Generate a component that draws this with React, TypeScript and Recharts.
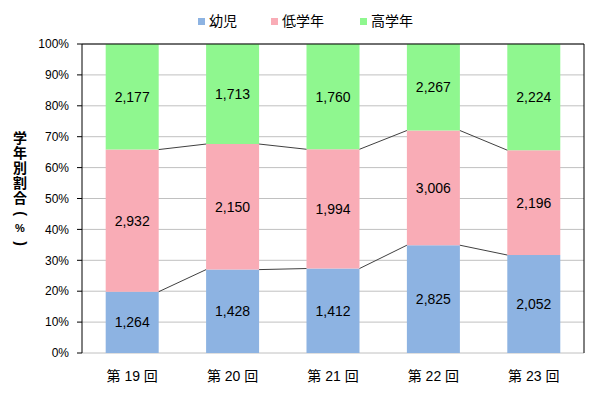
import React from 'react';
import {
  ComposedChart,
  Bar,
  Line,
  XAxis,
  YAxis,
  CartesianGrid,
  LabelList,
  ReferenceLine,
} from 'recharts';

const rounds = ['第 19 回', '第 20 回', '第 21 回', '第 22 回', '第 23 回'];
const infants = [1264, 1428, 1412, 2825, 2052];
const lowerGrades = [2932, 2150, 1994, 3006, 2196];
const upperGrades = [2177, 1713, 1760, 2267, 2224];

const seriesNames = ['幼児', '低学年', '高学年'];
const seriesColors = ['#8db3e2', '#f9acb6', '#8ff78f'];
const yTicks = [0, 10, 20, 30, 40, 50, 60, 70, 80, 90, 100];

const FONT = "'Liberation Sans', 'Noto Sans CJK JP', sans-serif";
const CATEGORY_GAP = 0.236;

const data = rounds.map((name, i) => {
  const total = infants[i] + lowerGrades[i] + upperGrades[i];
  return {
    name,
    a: (infants[i] / total) * 100,
    b: (lowerGrades[i] / total) * 100,
    c: (upperGrades[i] / total) * 100,
    an: infants[i],
    bn: lowerGrades[i],
    cn: upperGrades[i],
  };
});

// series lines join the top of a segment to the same segment in the next bar
const halfBar = (1 - 2 * CATEGORY_GAP) / 2;
const seriesLine = (cum: number[]) => {
  const pts: { px: number; v: number | null }[] = [];
  for (let i = 0; i < cum.length - 1; i++) {
    pts.push({ px: i + 0.5 + halfBar, v: cum[i] });
    pts.push({ px: i + 1.5 - halfBar, v: cum[i + 1] });
    pts.push({ px: i + 1.5, v: null });
  }
  return pts;
};
const infantTop = seriesLine(data.map((d) => d.a));
const lowerTop = seriesLine(data.map((d) => d.a + d.b));

const fmt = (v: any) => Number(v).toLocaleString('en-US');

const LegendBox = () => {
  const lefts = [198, 271, 360];
  return (
    <>
      {seriesNames.map((n, i) => (
        <div
          key={n}
          style={{
            position: 'absolute',
            left: lefts[i],
            top: 12,
            display: 'flex',
            alignItems: 'center',
            fontFamily: FONT,
            fontSize: 14,
            lineHeight: '18px',
            color: '#000',
          }}
        >
          <span style={{ width: 7, height: 7, background: seriesColors[i], marginRight: 4 }} />
          {n}
        </div>
      ))}
    </>
  );
};

const YTitle = () => {
  const chars = ['学', '年', '別', '割', '合', '(', '%', ')'];
  return (
    <div
      style={{
        position: 'absolute',
        left: 10,
        top: 131,
        width: 20,
        fontFamily: FONT,
        fontWeight: 'bold',
        color: '#000',
      }}
    >
      {chars.map((c, i) => {
        const paren = c === '(' || c === ')';
        return (
          <div
            key={i}
            style={{
              width: 20,
              height: 15,
              display: 'flex',
              alignItems: 'center',
              justifyContent: 'center',
              fontSize: c === '%' ? 11 : 14,
              lineHeight: '15px',
              transform: paren ? 'rotate(90deg)' : undefined,
            }}
          >
            {c}
          </div>
        );
      })}
    </div>
  );
};

export default function App() {
  return (
    <div style={{ position: 'absolute', left: 0, top: 0, width: 600, height: 398, background: '#fff' }}>
      <ComposedChart
        width={600}
        height={398}
        data={data}
        margin={{ top: 44, right: 16, bottom: 15, left: 0 }}
        barCategoryGap={`${CATEGORY_GAP * 100}%`}
      >
        <CartesianGrid vertical={false} stroke="#c0c0c0" />
        <XAxis
          xAxisId="n"
          type="number"
          dataKey="px"
          domain={[0, 5]}
          ticks={[0, 1, 2, 3, 4, 5]}
          tickFormatter={() => ''}
          height={0}
          tickSize={5}
          stroke="#000"
          allowDataOverflow
        />
        <XAxis
          dataKey="name"
          height={30}
          axisLine={false}
          tickLine={false}
          tickSize={6}
          tickMargin={12}
          tick={{ fill: '#000', fontSize: 14, fontFamily: FONT }}
        />
        <YAxis
          width={82}
          domain={[0, 100]}
          ticks={yTicks}
          tickFormatter={(v) => `${v}%`}
          tickSize={5}
          tickMargin={8}
          stroke="#000"
          tick={{ fill: '#000', fontSize: 12, fontFamily: FONT }}
        />
        <ReferenceLine y={100} stroke="#000" />
        <ReferenceLine xAxisId="n" x={5} stroke="#000" />
        <Bar dataKey="a" stackId="s" fill={seriesColors[0]} isAnimationActive={false}>
          <LabelList dataKey="an" position="center" formatter={fmt} fill="#000" fontSize={14} fontFamily={FONT} />
        </Bar>
        <Bar dataKey="b" stackId="s" fill={seriesColors[1]} isAnimationActive={false}>
          <LabelList dataKey="bn" position="center" formatter={fmt} fill="#000" fontSize={14} fontFamily={FONT} />
        </Bar>
        <Bar dataKey="c" stackId="s" fill={seriesColors[2]} isAnimationActive={false}>
          <LabelList dataKey="cn" position="center" formatter={fmt} fill="#000" fontSize={14} fontFamily={FONT} />
        </Bar>
        <Line
          xAxisId="n"
          data={infantTop}
          dataKey="v"
          stroke="#404040"
          strokeWidth={1}
          dot={false}
          activeDot={false}
          legendType="none"
          isAnimationActive={false}
        />
        <Line
          xAxisId="n"
          data={lowerTop}
          dataKey="v"
          stroke="#404040"
          strokeWidth={1}
          dot={false}
          activeDot={false}
          legendType="none"
          isAnimationActive={false}
        />
      </ComposedChart>
      <LegendBox />
      <YTitle />
    </div>
  );
}
